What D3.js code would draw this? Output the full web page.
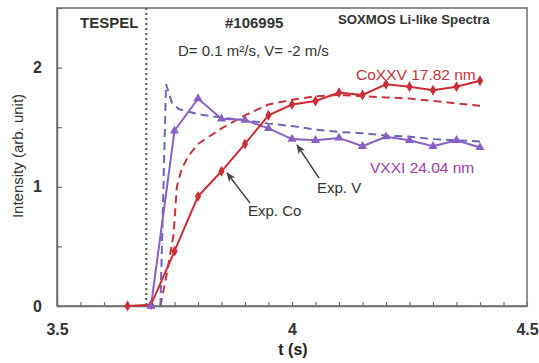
<!DOCTYPE html>
<html>
<head>
<meta charset="utf-8">
<script src="https://cdn.jsdelivr.net/npm/d3@7"></script>
<style>
  html, body { margin: 0; padding: 0; background: #fff; }
  svg { display: block; font-family: "Liberation Sans", Arial, sans-serif; }
</style>
</head>
<body>
<svg id="chart" width="539" height="363"></svg>
<script>
// ---- data ----
const expTimes = [3.65, 3.70, 3.75, 3.80, 3.85, 3.90, 3.95, 4.00, 4.05, 4.10, 4.15, 4.20, 4.25, 4.30, 4.35, 4.40];
const expCo    = [0.00, 0.01, 0.46, 0.92, 1.13, 1.36, 1.60, 1.69, 1.72, 1.79, 1.77, 1.86, 1.84, 1.81, 1.84, 1.89];
const expVTimes = [3.70, 3.75, 3.80, 3.85, 3.90, 3.95, 4.00, 4.05, 4.10, 4.15, 4.20, 4.25, 4.30, 4.35, 4.40];
const expV      = [0.00, 1.47, 1.74, 1.57, 1.56, 1.49, 1.40, 1.39, 1.41, 1.34, 1.42, 1.39, 1.34, 1.39, 1.33];

const modCoTimes = [3.72, 3.735, 3.748, 3.755, 3.765, 3.78, 3.80, 3.85, 3.90, 3.95, 4.00, 4.05, 4.10, 4.15, 4.20, 4.25, 4.30, 4.35, 4.40];
const modCo      = [0.00, 0.30, 0.60, 1.00, 1.15, 1.26, 1.36, 1.49, 1.60, 1.69, 1.73, 1.76, 1.77, 1.76, 1.75, 1.74, 1.72, 1.70, 1.68];
const modVTimes  = [3.72, 3.732, 3.745, 3.76, 3.80, 3.85, 3.90, 3.95, 4.00, 4.05, 4.10, 4.15, 4.20, 4.25, 4.30, 4.35, 4.40];
const modV       = [0.00, 1.86, 1.70, 1.65, 1.61, 1.58, 1.56, 1.53, 1.51, 1.48, 1.46, 1.45, 1.43, 1.42, 1.40, 1.39, 1.38];

const tespelTime = 3.69;
const xTickValues = [3.5, 3.55, 3.6, 3.65, 3.7, 3.75, 3.8, 3.85, 3.9, 3.95, 4.0, 4.05, 4.1, 4.15, 4.2, 4.25, 4.3, 4.35, 4.4, 4.45, 4.5];
const xTickLabels = {"3.5": "3.5", "4": "4", "4.5": "4.5"};
const yTickValues = [0, 0.5, 1, 1.5, 2, 2.5];
const yTickLabels = {"0": "0", "1": "1", "2": "2"};

// ---- layout ----
const svg = d3.select("#chart");
const L = 57, R = 527, T = 8, B = 306;
const x = d3.scaleLinear().domain([3.5, 4.5]).range([L, R]);
const y = d3.scaleLinear().domain([0, 2.5]).range([B, T]);

const red = "#cc2c34", redDash = "#c8353d";
const purple = "#8660c4", purpleDash = "#6a68b6";
const axisCol = "#6e6e6e";

// defs for arrowheads
svg.append("defs").append("marker")
  .attr("id", "arr").attr("viewBox", "0 0 10 10").attr("refX", 9).attr("refY", 5)
  .attr("markerWidth", 7).attr("markerHeight", 7).attr("orient", "auto")
  .append("path").attr("d", "M0,1 L10,5 L0,9 L3,5 Z").attr("fill", "#444");

// frame
svg.append("rect").attr("x", L).attr("y", T).attr("width", R - L).attr("height", B - T)
  .attr("fill", "none").attr("stroke", axisCol).attr("stroke-width", 1.5);

// axes
const xAxis = d3.axisBottom(x).tickValues(xTickValues).tickSizeInner(-4).tickSizeOuter(0)
  .tickFormat(d => xTickLabels[String(+d.toFixed(2))] || "");
const gx = svg.append("g").attr("transform", `translate(0,${B})`).call(xAxis);
gx.select(".domain").attr("stroke", axisCol).attr("stroke-width", 1.5);
gx.selectAll(".tick line").attr("stroke", axisCol).attr("stroke-width", 1.2);
gx.selectAll(".tick text").attr("y", 18).attr("dy", "0.71em")
  .style("font-family", "Liberation Sans, Arial, sans-serif").style("font-size", "16px")
  .style("font-weight", "bold").attr("fill", "#333");

const yAxis = d3.axisLeft(y).tickValues(yTickValues).tickSizeInner(-5).tickSizeOuter(0)
  .tickFormat(d => yTickLabels[String(d)] || "");
const gy = svg.append("g").attr("transform", `translate(${L},0)`).call(yAxis);
gy.select(".domain").attr("stroke", axisCol).attr("stroke-width", 1.5);
gy.selectAll(".tick line").attr("stroke", axisCol).attr("stroke-width", 1.2);
gy.selectAll(".tick text").attr("x", -15)
  .style("font-family", "Liberation Sans, Arial, sans-serif").style("font-size", "16px")
  .style("font-weight", "bold").attr("fill", "#333");

// axis titles
svg.append("text").attr("x", 293).attr("y", 355).attr("text-anchor", "middle")
  .attr("font-size", 16).attr("font-weight", "bold").attr("fill", "#222").text("t (s)");
svg.append("text").attr("transform", "translate(23,156) rotate(-90)").attr("text-anchor", "middle")
  .attr("font-size", 15).attr("fill", "#333").text("Intensity (arb. unit)");

// TESPEL line
svg.append("line").attr("x1", x(tespelTime)).attr("x2", x(tespelTime)).attr("y1", T).attr("y2", B)
  .attr("stroke", "#555").attr("stroke-width", 2).attr("stroke-dasharray", "2,3");

// lines
const line = d3.line().x(d => x(d[0])).y(d => y(d[1]));
const zip = (a, b) => a.map((t, i) => [t, b[i]]);

svg.append("path").attr("d", line(zip(modCoTimes, modCo))).attr("fill", "none")
  .attr("stroke", redDash).attr("stroke-width", 2).attr("stroke-dasharray", "8,5");
svg.append("path").attr("d", line(zip(modVTimes, modV))).attr("fill", "none")
  .attr("stroke", purpleDash).attr("stroke-width", 2).attr("stroke-dasharray", "8,5");

svg.append("path").attr("d", line(zip(expVTimes, expV))).attr("fill", "none")
  .attr("stroke", purple).attr("stroke-width", 2);
svg.append("path").attr("d", line(zip(expTimes, expCo))).attr("fill", "none")
  .attr("stroke", red).attr("stroke-width", 2);

// markers
svg.append("g").selectAll("path").data(zip(expTimes, expCo)).join("path")
  .attr("transform", d => `translate(${x(d[0])},${y(d[1])})`)
  .attr("d", d3.symbol(d3.symbolDiamond, 34)).attr("fill", red);
svg.append("g").selectAll("path").data(zip(expVTimes, expV)).join("path")
  .attr("transform", d => `translate(${x(d[0])},${y(d[1])})`)
  .attr("d", d3.symbol(d3.symbolTriangle, 36)).attr("fill", purple);

// texts
svg.append("text").attr("x", 80).attr("y", 28).attr("font-size", 15).attr("font-weight", "bold")
  .attr("fill", "#333").text("TESPEL");
svg.append("text").attr("x", 225).attr("y", 28).attr("font-size", 15).attr("font-weight", "bold")
  .attr("fill", "#333").text("#106995");
svg.append("text").attr("x", 338).attr("y", 24).attr("font-size", 13.2).attr("font-weight", "bold")
  .attr("fill", "#333").text("SOXMOS Li-like Spectra");
svg.append("text").attr("x", 178).attr("y", 56).attr("font-size", 15)
  .attr("fill", "#333").text("D= 0.1 m²/s, V= -2 m/s");
svg.append("text").attr("x", 356).attr("y", 80).attr("font-size", 15.5)
  .attr("fill", "#c0363c").text("CoXXV 17.82 nm");
svg.append("text").attr("x", 370).attr("y", 173).attr("font-size", 15.5)
  .attr("fill", "#a03ea6").text("VXXI 24.04 nm");

// annotations
svg.append("text").attr("x", 248).attr("y", 216).attr("font-size", 15).attr("fill", "#333").text("Exp. Co");
svg.append("line").attr("x1", 250).attr("y1", 203).attr("x2", 227).attr("y2", 173)
  .attr("stroke", "#444").attr("stroke-width", 1.4).attr("marker-end", "url(#arr)");
svg.append("text").attr("x", 317).attr("y", 193).attr("font-size", 15).attr("fill", "#333").text("Exp. V");
svg.append("line").attr("x1", 319).attr("y1", 178).attr("x2", 297).attr("y2", 145)
  .attr("stroke", "#444").attr("stroke-width", 1.4).attr("marker-end", "url(#arr)");
</script>
</body>
</html>
